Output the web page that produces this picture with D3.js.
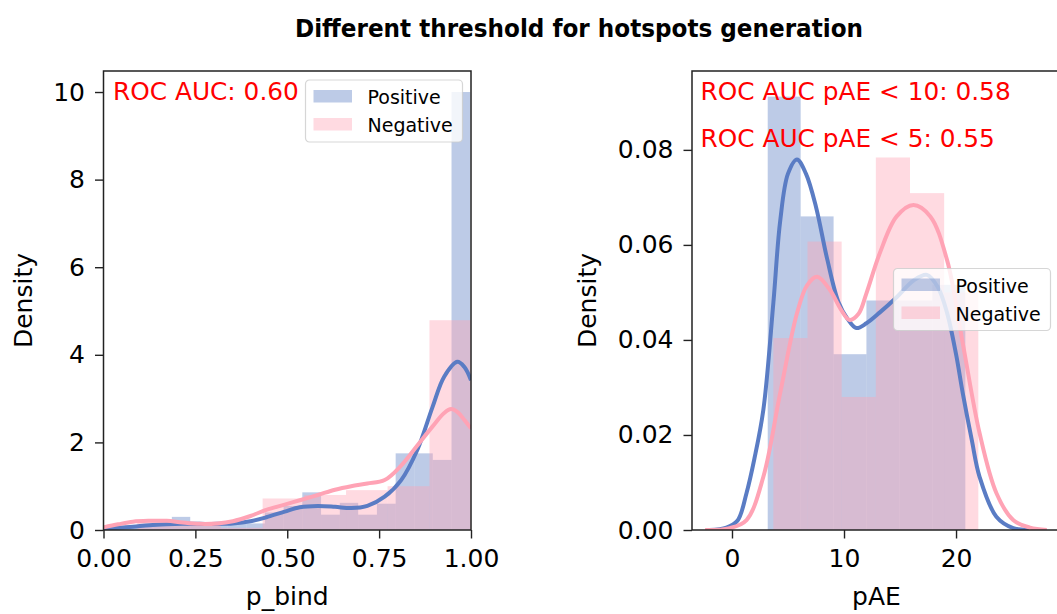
<!DOCTYPE html>
<html>
<head>
<meta charset="utf-8">
<script src="https://cdn.jsdelivr.net/npm/d3@7"></script>
<style>
  body { margin: 0; background: #fff; }
  text { font-family: "DejaVu Sans", sans-serif; fill: #000; }
</style>
</head>
<body>
<svg id="chart" width="1057" height="614"></svg>
<script>
// ---- data ----
const seriesNames = ['Positive', 'Negative'];

// left panel: p_bind histograms (bin edges + densities)
const bindPosEdges = [0.033, 0.084, 0.135, 0.186, 0.236, 0.287, 0.338, 0.389, 0.439, 0.490,
                      0.541, 0.592, 0.643, 0.693, 0.744, 0.795, 0.846, 0.896, 0.947, 0.998];
const bindPosDensity = [0.1, 0.1, 0.15, 0.3, 0.15, 0.15, 0.15, 0.15, 0.4, 0.55,
                        0.86, 0.35, 0.62, 0.35, 0.6, 1.75, 1.75, 1.6, 10.0];
const bindNegEdges = [0.092, 0.206, 0.319, 0.433, 0.546, 0.660, 0.773, 0.887, 1.0];
const bindNegDensity = [0.23, 0.12, 0.05, 0.72, 0.8, 0.91, 1.0, 4.79];

// left panel: kde curves
const bindPosKdeX = [0, 0.04, 0.08, 0.125, 0.172, 0.215, 0.262, 0.31, 0.352, 0.40, 0.443, 0.493,
                     0.534, 0.583, 0.63, 0.674, 0.718, 0.765, 0.81, 0.855, 0.895, 0.927, 0.963, 0.982, 1.0];
const bindPosKdeY = [0.02, 0.05, 0.075, 0.11, 0.13, 0.14, 0.14, 0.14, 0.15, 0.2, 0.29, 0.42,
                     0.52, 0.55, 0.53, 0.5, 0.55, 0.76, 1.14, 1.85, 2.8, 3.5, 3.84, 3.72, 3.42];
const bindNegKdeX = [0, 0.04, 0.08, 0.125, 0.172, 0.215, 0.262, 0.31, 0.352, 0.40, 0.443, 0.493,
                     0.534, 0.583, 0.63, 0.674, 0.718, 0.765, 0.81, 0.855, 0.895, 0.927, 0.946, 0.965, 0.982, 1.0];
const bindNegKdeY = [0.06, 0.13, 0.19, 0.21, 0.21, 0.17, 0.14, 0.15, 0.2, 0.32, 0.46, 0.58,
                     0.68, 0.8, 0.92, 1.0, 1.06, 1.14, 1.47, 1.94, 2.36, 2.67, 2.76, 2.68, 2.51, 2.32];

// right panel: pAE histograms
const paePosEdges = [3.19, 6.13, 9.07, 12.0, 14.95, 17.89, 20.83];
const paePosDensity = [0.0912, 0.066, 0.037, 0.0483, 0.0483, 0.0516];
const paeNegEdges = [3.69, 6.74, 9.79, 12.84, 15.89, 18.94, 21.99];
const paeNegDensity = [0.0404, 0.0607, 0.028, 0.0784, 0.0709, 0.050];

// right panel: kde curves
const paePosKdeX = [-2.0, -0.5, 0.5, 1.3, 2.0, 2.8, 3.7, 4.3, 5.0, 5.8, 6.6, 7.5, 8.5, 9.5, 10.3,
                    11.1, 12.0, 13.2, 14.7, 16.2, 17.4, 18.4, 19.2, 20.0, 20.6, 21.4, 22.1, 23.6, 25.1, 26.5];
const paePosKdeY = [0, 0.0005, 0.002, 0.0078, 0.015, 0.0253, 0.048, 0.065, 0.075, 0.078, 0.075, 0.068,
                    0.057, 0.048, 0.0445, 0.0425, 0.0435, 0.0458, 0.049, 0.0525, 0.0537, 0.051, 0.0457,
                    0.037, 0.0288, 0.019, 0.0112, 0.0028, 0.0004, 0];
const paeNegKdeX = [-2.4, -0.2, 1.3, 2.8, 4.3, 5.8, 6.7, 7.6, 8.75, 9.7, 10.5, 11.3, 12.0, 13.2,
                    14.7, 16.2, 17.7, 19.2, 20.6, 22.1, 23.6, 25.1, 26.6, 28.1];
const paeNegKdeY = [0, 0.0004, 0.0021, 0.0112, 0.0288, 0.0456, 0.0515, 0.0533, 0.0505, 0.0465, 0.0442,
                    0.0455, 0.0498, 0.0583, 0.066, 0.0684, 0.066, 0.0568, 0.0393, 0.0204, 0.0078,
                    0.0021, 0.0005, 0];

// ticks and texts
const bindXTicks = [0, 0.25, 0.5, 0.75, 1.0];
const bindYTicks = [0, 2, 4, 6, 8, 10];
const paeXTicks = [0, 10, 20];
const paeYTicks = [0, 0.02, 0.04, 0.06, 0.08];
const bindNotes = ['ROC AUC: 0.60'];
const paeNotes = ['ROC AUC pAE < 10: 0.58', 'ROC AUC pAE < 5: 0.55'];

const colors = ['#5a7cc4', '#ffa3b5'];

var svg = d3.select('#chart');
var top_ = 71, bottom = 530;

svg.append('text')
  .attr('x', 579).attr('y', 37)
  .attr('text-anchor', 'middle')
  .attr('textLength', 568).attr('lengthAdjust', 'spacingAndGlyphs')
  .style('font-weight', 'bold').style('font-size', '25px')
  .text('Different threshold for hotspots generation');

function drawPanel(p) {
  var x = d3.scaleLinear().domain(p.xDomain).range(p.xRange);
  var y = d3.scaleLinear().domain(p.yDomain).range([bottom, top_]);
  var g = svg.append('g');

  g.append('clipPath').attr('id', p.id + 'clip')
    .append('rect')
    .attr('x', p.xRange[0]).attr('y', top_)
    .attr('width', p.xRange[1] - p.xRange[0]).attr('height', bottom - top_);

  var plot = g.append('g').attr('clip-path', 'url(#' + p.id + 'clip)');

  var line = d3.line()
    .x(d => x(d[0]))
    .y(d => y(d[1]))
    .curve(d3.curveCatmullRom.alpha(0.5));

  // histograms first
  p.hists.forEach((h, i) => {
    var bins = h.density.map((v, j) => ({ x0: h.edges[j], x1: h.edges[j + 1], v: v }));
    plot.selectAll('.bar' + i)
      .data(bins)
      .enter()
      .append('rect')
      .attr('class', 'bar' + i)
      .attr('x', d => x(d.x0))
      .attr('width', d => x(d.x1) - x(d.x0))
      .attr('y', d => y(d.v))
      .attr('height', d => y(0) - y(d.v))
      .style('fill', colors[i])
      .style('fill-opacity', 0.4);
  });

  // then the kde lines
  p.kdes.forEach((k, i) => {
    plot.append('path')
      .attr('d', line(d3.zip(k.x, k.y)))
      .style('fill', 'none')
      .style('stroke', colors[i])
      .style('stroke-width', 4)
      .style('stroke-linejoin', 'round');
  });

  // axes
  var xAxis = g.append('g')
    .attr('transform', 'translate(0,' + bottom + ')')
    .call(d3.axisBottom(x).tickValues(p.xTicks).tickFormat(p.xFormat).tickSize(8.5).tickPadding(11));
  var yAxis = g.append('g')
    .attr('transform', 'translate(' + p.xRange[0] + ',0)')
    .call(d3.axisLeft(y).tickValues(p.yTicks).tickFormat(p.yFormat).tickSize(8.5).tickPadding(10));
  [xAxis, yAxis].forEach(a => {
    a.select('.domain').remove();
    a.selectAll('line').style('stroke', '#222').style('stroke-width', 1.4);
    a.selectAll('text')
      .style('font-size', '25px')
      .style('font-family', '"DejaVu Sans", sans-serif')
      .attr('fill', '#000');
  });

  // spines
  g.append('rect')
    .attr('x', p.xRange[0]).attr('y', top_)
    .attr('width', p.xRange[1] - p.xRange[0]).attr('height', bottom - top_)
    .style('fill', 'none').style('stroke', '#222').style('stroke-width', 1.5);

  // axis labels
  g.append('text')
    .attr('x', (p.xRange[0] + p.xRange[1]) / 2).attr('y', 605)
    .attr('text-anchor', 'middle')
    .style('font-size', '25px')
    .text(p.xLabel);
  g.append('text')
    .attr('transform', 'translate(' + p.yLabelX + ',' + ((top_ + bottom) / 2) + ') rotate(-90)')
    .attr('text-anchor', 'middle')
    .style('font-size', '25px')
    .text('Density');

  // ROC notes
  p.notes.forEach((t, i) => {
    g.append('text')
      .attr('x', p.noteX).attr('y', 100 + i * 46.7)
      .style('font-size', '24.8px')
      .style('fill', '#ff0000')
      .text(t);
  });

  // legend
  var lg = g.append('g').attr('transform', 'translate(' + p.legend[0] + ',' + p.legend[1] + ')');
  lg.append('rect')
    .attr('width', 157).attr('height', 62).attr('rx', 4)
    .style('fill', '#fff').style('fill-opacity', 0.8)
    .style('stroke', '#ccc').style('stroke-opacity', 0.8).style('stroke-width', 1.2);
  seriesNames.forEach((name, i) => {
    lg.append('rect')
      .attr('x', 8).attr('y', 10 + i * 28)
      .attr('width', 38.5).attr('height', 12.5)
      .style('fill', colors[i]).style('fill-opacity', 0.4);
    lg.append('text')
      .attr('x', 62).attr('y', 24 + i * 28)
      .style('font-size', '19px')
      .text(name);
  });
}

drawPanel({
  id: 'bind',
  xDomain: [0, 1], xRange: [103.5, 471],
  yDomain: [0, 10.48],
  xTicks: bindXTicks, yTicks: bindYTicks,
  xFormat: d3.format('.2f'), yFormat: d3.format('d'),
  hists: [{ edges: bindPosEdges, density: bindPosDensity }, { edges: bindNegEdges, density: bindNegDensity }],
  kdes: [{ x: bindPosKdeX, y: bindPosKdeY }, { x: bindNegKdeX, y: bindNegKdeY }],
  xLabel: 'p_bind', yLabelX: 32,
  notes: bindNotes, noteX: 113,
  legend: [305.5, 80]
});

drawPanel({
  id: 'pae',
  xDomain: [-3.57, 29.37], xRange: [692, 1061],
  yDomain: [0, 0.0966],
  xTicks: paeXTicks, yTicks: paeYTicks,
  xFormat: d3.format('d'), yFormat: d3.format('.2f'),
  hists: [{ edges: paePosEdges, density: paePosDensity }, { edges: paeNegEdges, density: paeNegDensity }],
  kdes: [{ x: paePosKdeX, y: paePosKdeY }, { x: paeNegKdeX, y: paeNegKdeY }],
  xLabel: 'pAE', yLabelX: 596,
  notes: paeNotes, noteX: 700.5,
  legend: [893.5, 268.5]
});
</script>
</body>
</html>
